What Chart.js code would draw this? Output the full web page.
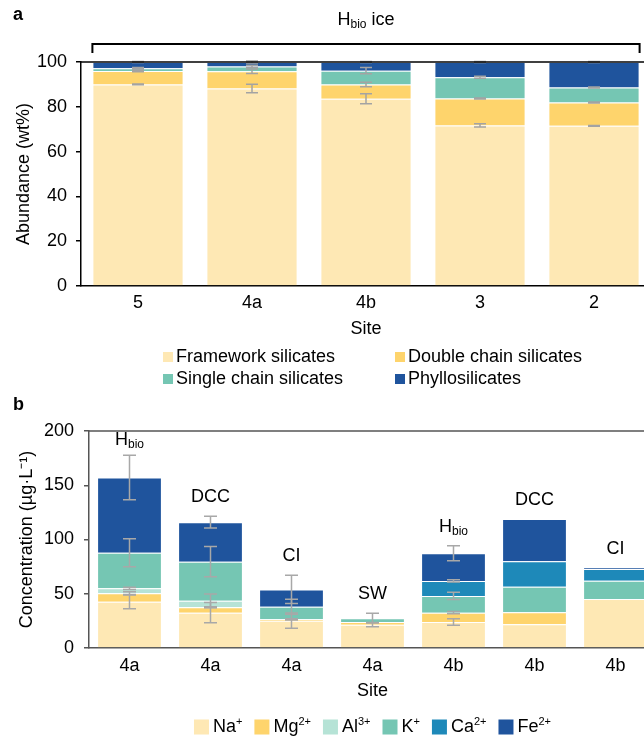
<!DOCTYPE html>
<html>
<head>
<meta charset="utf-8">
<script src="https://cdn.jsdelivr.net/npm/chart.js@4.4.1/dist/chart.umd.min.js"></script>
<style>
    html, body { margin: 0; padding: 0; overflow: hidden; background: #fff; width: 644px; height: 738px; }
    #panelA { position: absolute; left: 0; top: 0; }
    #panelB { position: absolute; left: 0; top: 395px; }
</style>
</head>
<body>
<canvas id="panelA" width="660" height="395"></canvas>
<canvas id="panelB" width="660" height="343"></canvas>
<script>
// Panel a: mineral abundance per site
const sites = ['5', '4a', '4b', '3', '2'];
const framework = [90, 88.2, 83.6, 71.7, 71.5];
const doubleChain = [6, 7.7, 6.4, 12, 10.4];
const singleChain = [1.2, 2.1, 6.1, 9.5, 6.7];
const phyllo = [2.8, 2, 3.9, 6.8, 11.4];
const frameworkErr = [0.2, 1.9, 2.2, 0.7, 0.2];
const doubleErr = [0.3, 1, 1, 0.2, 0.2];
const singleErr = [0.3, 0.5, 1.4, 0.4, 0.2];
const phylloErr = [0.2, 0.4, 0.2, 0.2, 0.2];

// Panel b: ion concentrations
const ionSites = ['4a', '4a', '4a', '4a', '4b', '4b', '4b'];
const ionGroups = ['H_bio', 'DCC', 'CI', 'SW', 'H_bio', 'DCC', 'CI'];
const ions = ['Na', 'Mg', 'Al', 'K', 'Ca', 'Fe'];
const charges = ['+', '2+', '3+', '+', '2+', '2+'];
const na = [42.7, 32.6, 25.2, 21.5, 24, 21.8, 45.2];
const mg = [7.7, 4.9, 1.2, 2.5, 8.6, 11.1, null];
const al = [4.6, 6.1, null, null, null, null, null];
const k = [32.8, 36, 11.6, 3.5, 15.4, 23.6, 16.8];
const ca = [null, null, null, null, 13.8, 23.4, 10.8];
const fe = [69.4, 36.4, 16, null, 25.5, 39, 1.2];
const naErr = [6.5, 9.3, 7, 2, 3, null, null];
const mgErr = [1.5, 0.5, 0.5, null, 1, null, null];
const alErr = [1, 6.2, null, null, null, null, null];
const kErr = [13, 14, 7, 4.5, 3.4, null, null];
const caErr = [null, null, null, null, 1, null, null];
const feErr = [20.5, 5.5, 13, null, 7, null, null];

const FONT = '"Liberation Sans", Arial, sans-serif';
Chart.defaults.font.family = FONT;
Chart.defaults.font.size = 18;
Chart.defaults.color = '#000';

const colors = {
    cream: '#fee8b4',
    yellow: '#fed46c',
    mint: '#b6e3d6',
    teal: '#75c6b3',
    blue: '#1e89b9',
    navy: '#1f549d'
};

// текст с верхними/нижними индексами
function drawRich(ctx, parts, x, y, align) {
    let w = 0;
    parts.forEach(p => {
        ctx.font = (p.bold ? 'bold ' : '') + p.size + 'px ' + FONT;
        p.w = ctx.measureText(p.t).width;
        w += p.w;
    });
    let cx = align === 'center' ? x - w / 2 : x;
    ctx.textAlign = 'left';
    ctx.textBaseline = 'middle';
    ctx.fillStyle = '#000';
    parts.forEach(p => {
        ctx.font = (p.bold ? 'bold ' : '') + p.size + 'px ' + FONT;
        ctx.fillText(p.t, cx, y + (p.dy || 0));
        cx += p.w;
    });
    return w;
}

function groupParts(name) {
    const [base, sub] = name.split('_');
    const parts = [{ t: base, size: 18 }];
    if (sub) parts.push({ t: sub, size: 12, dy: 5 });
    return parts;
}

// Error bars at the top of each stacked segment
const errorBars = {
    id: 'errorBars',
    afterDatasetsDraw(chart, args, opts) {
        const ctx = chart.ctx;
        const xs = chart.scales.x, ys = chart.scales.y;
        const sets = chart.data.datasets;
        ctx.save();
        ctx.strokeStyle = opts.color;
        ctx.lineWidth = opts.width;
        sets.forEach((ds, i) => {
            if (!ds.errors) return;
            ds.errors.forEach((e, j) => {
                if (e == null) return;
                let top = 0;
                for (let n = 0; n <= i; n++) top += sets[n].data[j] || 0;
                const x = xs.getPixelForValue(j);
                const y1 = ys.getPixelForValue(top + e);
                const y2 = ys.getPixelForValue(top - e);
                ctx.beginPath();
                ctx.moveTo(x, y1); ctx.lineTo(x, y2);
                ctx.moveTo(x - opts.cap, y1); ctx.lineTo(x + opts.cap, y1);
                ctx.moveTo(x - opts.cap, y2); ctx.lineTo(x + opts.cap, y2);
                ctx.stroke();
            });
        });
        ctx.restore();
    }
};

// Panel a decorations: frame top, bracket, legend
const decorA = {
    id: 'decorA',
    afterDraw(chart) {
        const ctx = chart.ctx, area = chart.chartArea, xs = chart.scales.x;
        ctx.save();
        drawRich(ctx, [{ t: 'a', size: 18, bold: true }], 13, 15, 'left');
        ctx.strokeStyle = '#000';
        ctx.lineWidth = 1.5;
        ctx.beginPath();
        ctx.moveTo(area.left, area.top);
        ctx.lineTo(area.right, area.top);
        ctx.stroke();

        const half = chart.getDatasetMeta(0).data[0].width / 2;
        const xL = xs.getPixelForValue(0) - half;
        const xR = xs.getPixelForValue(sites.length - 1) + half;
        ctx.lineWidth = 2;
        ctx.beginPath();
        ctx.moveTo(xL, 53); ctx.lineTo(xL, 44); ctx.lineTo(xR, 44); ctx.lineTo(xR, 53);
        ctx.stroke();
        drawRich(ctx, [{ t: 'H', size: 18 }, { t: 'bio', size: 12, dy: 5 }, { t: ' ice', size: 18 }], (xL + xR) / 2, 20, 'center');

        const cols = [163, 395], rows = [357, 379];
        chart.data.datasets.forEach((ds, i) => {
            const x = cols[i % 2], y = rows[Math.floor(i / 2)];
            ctx.fillStyle = ds.backgroundColor;
            ctx.fillRect(x, y - 5, 10, 10);
            drawRich(ctx, [{ t: ds.label, size: 18 }], x + 13, y, 'left');
        });
        ctx.restore();
    }
};

// Panel b decorations: frame top, group names, legend
const decorB = {
    id: 'decorB',
    afterDraw(chart) {
        const ctx = chart.ctx, area = chart.chartArea, xs = chart.scales.x, ys = chart.scales.y;
        const sets = chart.data.datasets;
        ctx.save();
        drawRich(ctx, [{ t: 'b', size: 18, bold: true }], 13, 10, 'left');
        ctx.strokeStyle = '#555';
        ctx.lineWidth = 1.5;
        ctx.beginPath();
        ctx.moveTo(area.left, area.top);
        ctx.lineTo(area.right, area.top);
        ctx.stroke();

        ionGroups.forEach((g, j) => {
            let cum = 0, peak = 0;
            sets.forEach(ds => {
                cum += ds.data[j] || 0;
                const e = ds.errors[j];
                peak = Math.max(peak, cum + (e || 0));
            });
            const y = Math.max(ys.getPixelForValue(peak) - 19, area.top + 9);
            drawRich(ctx, groupParts(g), xs.getPixelForValue(j), y, 'center');
        });

        // легенда по центру области графика
        const items = ions.map((ion, i) => [{ t: ion, size: 18 }, { t: charges[i], size: 11, dy: -5 }]);
        const widths = items.map(parts => parts.reduce((s, p) => {
            ctx.font = p.size + 'px ' + FONT;
            return s + ctx.measureText(p.t).width;
        }, 0));
        const gap = 12, box = 15;
        const total = widths.reduce((s, w) => s + box + 4 + w, 0) + gap * (items.length - 1);
        let x = (area.left + area.right) / 2 - total / 2;
        const y = 332;
        items.forEach((parts, i) => {
            ctx.fillStyle = sets[i].backgroundColor;
            ctx.fillRect(x, y - box / 2, box, box);
            drawRich(ctx, parts, x + box + 4, y, 'left');
            x += box + 4 + widths[i] + gap;
        });
        ctx.restore();
    }
};

function barSet(label, data, color, errors) {
    return {
        label: label,
        data: data,
        errors: errors,
        backgroundColor: color,
        borderColor: 'rgba(255, 255, 255, 0.35)',
        borderWidth: 1,
        barPercentage: 0.8,
        categoryPercentage: 1.0
    };
}

function axisTitle(text, padding) {
    return { display: true, text: text, color: '#000', font: { size: 18 }, padding: padding };
}

new Chart(document.getElementById('panelA').getContext('2d'), {
    type: 'bar',
    data: {
        labels: sites,
        datasets: [
            barSet('Framework silicates', framework, colors.cream, frameworkErr),
            barSet('Double chain silicates', doubleChain, colors.yellow, doubleErr),
            barSet('Single chain silicates', singleChain, colors.teal, singleErr),
            barSet('Phyllosilicates', phyllo, colors.navy, phylloErr)
        ]
    },
    options: {
        responsive: false,
        animation: false,
        layout: { padding: { top: 62, right: 9, left: 0, bottom: 0 } },
        plugins: {
            legend: { display: false },
            tooltip: { enabled: false },
            errorBars: { color: '#a3a3a3', width: 1.5, cap: 6 }
        },
        scales: {
            x: {
                stacked: true,
                grid: { display: false, drawTicks: false },
                border: { display: true, color: '#000', width: 1.5 },
                ticks: { padding: 6, color: '#000' },
                title: axisTitle('Site', { top: 0, bottom: 55 }),
                afterFit(scale) { scale.height = 109; }
            },
            y: {
                stacked: true,
                min: 0,
                max: 100,
                ticks: { stepSize: 20, padding: 9, color: '#000' },
                grid: { display: true, drawOnChartArea: false, drawTicks: true, tickLength: 5, color: '#000', lineWidth: 1.5 },
                border: { display: true, color: '#000', width: 1.5 },
                title: axisTitle('Abundance (wt%)', { top: 13, bottom: 0 }),
                afterFit(scale) { scale.width = 81; }
            }
        }
    },
    plugins: [errorBars, decorA]
});

const ionColors = [colors.cream, colors.yellow, colors.mint, colors.teal, colors.blue, colors.navy];
const ionData = [na, mg, al, k, ca, fe];
const ionErrs = [naErr, mgErr, alErr, kErr, caErr, feErr];

new Chart(document.getElementById('panelB').getContext('2d'), {
    type: 'bar',
    data: {
        labels: ionSites,
        datasets: ions.map((ion, i) => barSet(ion + charges[i], ionData[i], ionColors[i], ionErrs[i]))
    },
    options: {
        responsive: false,
        animation: false,
        layout: { padding: { top: 36, right: 4, left: 0, bottom: 0 } },
        plugins: {
            legend: { display: false },
            tooltip: { enabled: false },
            errorBars: { color: '#a8a8a8', width: 1.5, cap: 6.5 }
        },
        scales: {
            x: {
                stacked: true,
                grid: { display: false, drawTicks: false },
                border: { display: true, color: '#555', width: 1.5 },
                ticks: { padding: 7, color: '#000', autoSkip: false, maxRotation: 0 },
                title: axisTitle('Site', { top: 0, bottom: 36 }),
                afterFit(scale) { scale.height = 90; }
            },
            y: {
                stacked: true,
                min: 0,
                max: 200,
                ticks: { stepSize: 50, padding: 10, color: '#000' },
                grid: { display: true, drawOnChartArea: false, drawTicks: true, tickLength: 5, color: '#555', lineWidth: 1.5 },
                border: { display: true, color: '#555', width: 1.5 },
                title: axisTitle('Concentration (µg·L⁻¹)', { top: 16, bottom: 0 }),
                afterFit(scale) { scale.width = 89; }
            }
        }
    },
    plugins: [errorBars, decorB]
});
</script>
</body>
</html>
